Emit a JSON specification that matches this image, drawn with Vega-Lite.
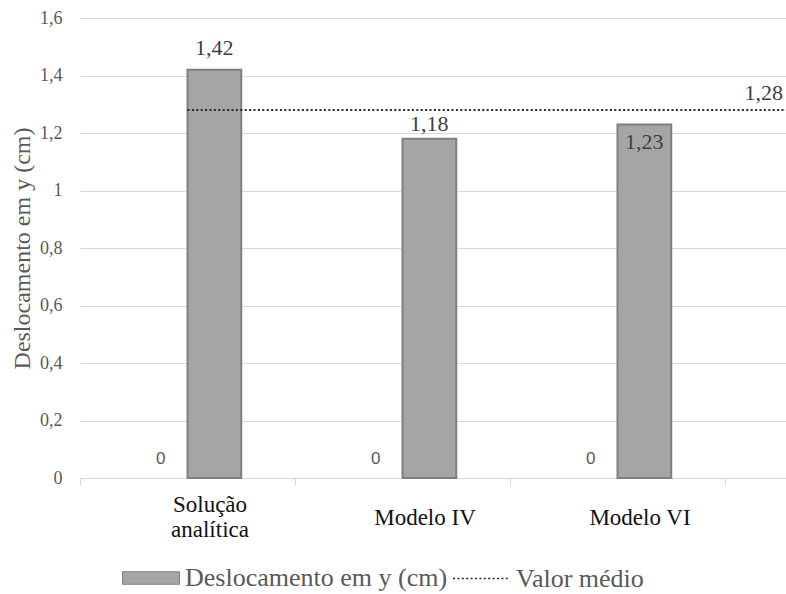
{
  "$schema": "https://vega.github.io/schema/vega-lite/v6.json",
  "width": 706,
  "height": 460,
  "autosize": {"type": "none"},
  "padding": {"left": 80, "top": 18, "right": 0, "bottom": 116},
  "background": "white",
  "config": {
    "view": {"stroke": null},
    "locale": {"number": {"decimal": ",", "thousands": ".", "grouping": [3], "currency": ["R$", ""]}}
  },
  "datasets": {
    "barras": [
      {"categoria": "Solução analítica", "grupo": "A", "serie": "Deslocamento em y (cm)", "valor": 0},
      {"categoria": "Solução analítica", "grupo": "B", "serie": "Deslocamento em y (cm)", "valor": 1.42},
      {"categoria": "Modelo IV", "grupo": "A", "serie": "Deslocamento em y (cm)", "valor": 0},
      {"categoria": "Modelo IV", "grupo": "B", "serie": "Deslocamento em y (cm)", "valor": 1.18},
      {"categoria": "Modelo VI", "grupo": "A", "serie": "Deslocamento em y (cm)", "valor": 0},
      {"categoria": "Modelo VI", "grupo": "B", "serie": "Deslocamento em y (cm)", "valor": 1.23}
    ],
    "media": [
      {"categoria": "Solução analítica", "serie": "Valor médio", "valor": 1.28}
    ]
  },
  "resolve": {"axis": {"y": "independent"}},
  "layer": [
    {
      "data": {"name": "barras"},
      "transform": [{"filter": "datum.valor > 0"}],
      "mark": {"type": "bar", "stroke": "#7f7f7f", "strokeWidth": 2},
      "encoding": {
        "x": {
          "field": "categoria", "type": "nominal", "sort": null,
          "scale": {"domain": ["Solução analítica", "Modelo IV", "Modelo VI"], "paddingInner": 0, "paddingOuter": 0.1419, "align": 0},
          "axis": {
            "title": null, "labelAngle": 0, "tickBand": "extent",
            "domainColor": "#d9d9d9", "tickColor": "#d9d9d9", "tickSize": 7,
            "labelFont": "Liberation Serif", "labelFontSize": 23, "labelColor": "#111111",
            "labelBaseline": "middle", "labelLineHeight": 25,
            "labelPadding": {"condition": {"test": "datum.value === 'Solução analítica'", "value": 19}, "value": 32},
            "labelOffset": 22,
            "labelExpr": "datum.label === 'Solução analítica' ? ['Solução', 'analítica'] : datum.label"
          }
        },
        "xOffset": {"field": "grupo", "type": "nominal", "scale": {"domain": ["A", "B"], "paddingInner": 0, "paddingOuter": 1.337}},
        "y": {
          "field": "valor", "type": "quantitative",
          "scale": {"domain": [0, 1.6], "nice": false},
          "axis": {
            "orient": "left",
            "title": "Deslocamento em y (cm)",
            "titleFont": "Liberation Serif", "titleFontSize": 24, "titleFontWeight": "normal", "titleColor": "#595959",
            "titlePadding": 5,
            "domain": false, "ticks": false, "labelOverlap": false,
            "labelFont": "Liberation Serif", "labelFontSize": 18, "labelColor": "#595959", "labelPadding": 18,
            "values": [0, 0.2, 0.4, 0.6, 0.8, 1, 1.2, 1.4, 1.6],
            "format": ".1~f",
            "gridColor": "#d9d9d9", "gridWidth": 1.2
          }
        },
        "fill": {
          "field": "serie", "type": "nominal",
          "scale": {"domain": ["Deslocamento em y (cm)"], "range": ["#a5a5a5"]},
          "legend": {
            "title": null, "orient": "none", "legendX": 42, "legendY": 531, "padding": 0,
            "labelFont": "Liberation Serif", "labelFontSize": 26, "labelColor": "#595959", "labelLimit": 500, "labelOffset": 5,
            "symbolType": "M-1,-0.22H1V0.22H-1Z", "symbolSize": 3249,
            "symbolFillColor": "#8c8c8c", "symbolStrokeColor": "#808080", "symbolStrokeWidth": 1, "symbolOpacity": 1
          }
        }
      }
    },
    {
      "data": {"name": "media"},
      "mark": {"type": "rule", "strokeWidth": 2, "color": "#262626"},
      "encoding": {
        "x": {"field": "categoria", "type": "nominal"},
        "x2": {"value": "width"},
        "y": {
          "field": "valor", "type": "quantitative",
          "axis": {
            "orient": "left", "title": null, "labels": false, "domain": false, "ticks": false,
            "values": [0.04, 0.08, 0.12, 0.16, 0.24, 0.28, 0.32, 0.36, 0.44, 0.48, 0.52, 0.56, 0.64, 0.68, 0.72, 0.76, 0.84, 0.88, 0.92, 0.96, 1.04, 1.08, 1.12, 1.16, 1.24, 1.28, 1.32, 1.36, 1.44, 1.48, 1.52, 1.56],
            "gridColor": "#efefef", "gridWidth": 1.2
          }
        },
        "strokeDash": {
          "field": "serie", "type": "nominal",
          "scale": {"domain": ["Valor médio"], "range": [[2, 2.4]]},
          "legend": {
            "title": null, "orient": "none", "legendX": 372, "legendY": 531, "padding": 0,
            "labelFont": "Liberation Serif", "labelFontSize": 26, "labelColor": "#595959", "labelLimit": 500, "labelOffset": 5,
            "symbolType": "stroke", "symbolSize": 3249,
            "symbolStrokeColor": "#262626", "symbolStrokeWidth": 1.5, "symbolDash": [1.5, 1.5]
          }
        }
      }
    },
    {
      "data": {"name": "media"},
      "mark": {"type": "text", "align": "right", "baseline": "alphabetic", "dx": -3, "dy": -10, "font": "Liberation Serif", "fontSize": 22, "color": "#404040"},
      "encoding": {
        "x": {"value": "width"},
        "y": {"field": "valor", "type": "quantitative", "axis": null},
        "text": {"field": "valor", "type": "quantitative", "format": ".2f"}
      }
    },
    {
      "data": {"name": "barras"},
      "transform": [{"filter": "datum.grupo === 'A'"}],
      "mark": {"type": "text", "align": "center", "baseline": "alphabetic", "dy": -14, "font": "Liberation Sans", "fontSize": 17, "color": "#595959"},
      "encoding": {
        "x": {"field": "categoria", "type": "nominal"},
        "xOffset": {"field": "grupo", "type": "nominal"},
        "y": {"field": "valor", "type": "quantitative", "axis": null},
        "text": {"field": "valor", "type": "quantitative", "format": "d"}
      }
    },
    {
      "data": {"name": "barras"},
      "transform": [{"filter": "datum.grupo === 'B' && datum.categoria === 'Solução analítica'"}],
      "mark": {"type": "text", "align": "center", "baseline": "alphabetic", "dy": -15, "font": "Liberation Serif", "fontSize": 22, "color": "#404040"},
      "encoding": {
        "x": {"field": "categoria", "type": "nominal"},
        "xOffset": {"field": "grupo", "type": "nominal"},
        "y": {"field": "valor", "type": "quantitative", "axis": null},
        "text": {"field": "valor", "type": "quantitative", "format": ".2f"}
      }
    },
    {
      "data": {"name": "barras"},
      "transform": [{"filter": "datum.grupo === 'B' && datum.categoria === 'Modelo IV'"}],
      "mark": {"type": "text", "align": "center", "baseline": "alphabetic", "dy": -8, "font": "Liberation Serif", "fontSize": 22, "color": "#404040"},
      "encoding": {
        "x": {"field": "categoria", "type": "nominal"},
        "xOffset": {"field": "grupo", "type": "nominal"},
        "y": {"field": "valor", "type": "quantitative", "axis": null},
        "text": {"field": "valor", "type": "quantitative", "format": ".2f"}
      }
    },
    {
      "data": {"name": "barras"},
      "transform": [{"filter": "datum.grupo === 'B' && datum.categoria === 'Modelo VI'"}],
      "mark": {"type": "text", "align": "center", "baseline": "alphabetic", "dy": 25, "font": "Liberation Serif", "fontSize": 22, "color": "#404040"},
      "encoding": {
        "x": {"field": "categoria", "type": "nominal"},
        "xOffset": {"field": "grupo", "type": "nominal"},
        "y": {"field": "valor", "type": "quantitative", "axis": null},
        "text": {"field": "valor", "type": "quantitative", "format": ".2f"}
      }
    }
  ]
}
